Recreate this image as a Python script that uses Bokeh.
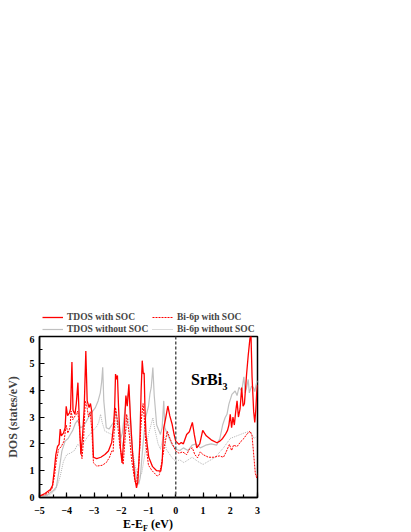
from bokeh.plotting import figure
from bokeh.models import Span, Label, Legend, LegendItem, FixedTicker, Div, Range1d
from bokeh.layouts import column
from bokeh.embed import file_html
from bokeh.resources import INLINE

# ---- data ----
tdos_soc_x = [-5.0, -4.8, -4.6, -4.52, -4.45, -4.4, -4.34, -4.28, -4.24, -4.2, -4.12, -4.06, -4.02, -3.97, -3.9,
              -3.86, -3.81, -3.77, -3.7, -3.65, -3.59, -3.54, -3.48, -3.42, -3.36, -3.3, -3.25, -3.18, -3.13, -3.08,
              -3.02, -2.9, -2.75, -2.6, -2.47, -2.35, -2.28, -2.24, -2.21, -2.17, -2.14, -2.1, -2.03, -1.97, -1.9,
              -1.83, -1.78, -1.72, -1.66, -1.58, -1.5, -1.44, -1.39, -1.32, -1.27, -1.23, -1.19, -1.16, -1.13, -1.09,
              -0.99, -0.85, -0.7, -0.55, -0.5, -0.44, -0.38, -0.29, -0.22, -0.13, -0.05, 0.0, 0.12, 0.2, 0.28,
              0.4, 0.5, 0.61, 0.68, 0.77, 0.88, 0.99, 1.12, 1.3, 1.51, 1.62, 1.72, 1.82, 1.9, 1.95,
              2.0, 2.05, 2.1, 2.15, 2.2, 2.25, 2.3, 2.36, 2.42, 2.47, 2.52, 2.6, 2.66, 2.72, 2.76,
              2.8, 2.86, 2.9, 2.94, 2.97, 3.0]
tdos_soc_y = [0.05, 0.15, 0.3, 0.45, 1.1, 1.6, 1.9, 1.98, 2.55, 2.3, 2.4, 2.6, 3.4, 3.05, 3.15,
              3.3, 5.05, 3.25, 3.1, 3.5, 4.28, 2.9, 1.6, 2.3, 3.3, 5.46, 3.6, 3.35, 3.5, 3.2,
              1.5, 1.45, 1.5, 1.6, 1.73, 2.05, 2.7, 3.4, 4.6, 4.4, 4.55, 3.4, 1.85, 1.29, 2.3,
              3.8, 3.4, 4.22, 2.9, 1.6, 0.7, 0.36, 0.6, 2.0, 4.0, 5.1, 4.6, 4.65, 3.3, 2.3,
              1.5, 1.15, 1.0, 0.98, 1.3, 2.6, 2.9, 3.41, 3.05, 2.72, 2.3, 2.1, 1.98, 2.05, 2.0,
              2.35, 2.45, 2.8, 2.35, 1.85, 2.0, 2.5, 2.3, 2.15, 2.04, 2.1, 2.2, 2.35, 2.5, 2.7,
              3.1, 2.6, 3.0, 2.7, 3.2, 3.6, 3.0, 3.3, 4.1, 3.4, 3.5, 4.6, 5.3, 5.9, 6.1,
              4.5, 3.2, 2.8, 3.3, 3.9, 4.2]

tdos_nosoc_x = [-5.0, -4.7, -4.5, -4.38, -4.3, -4.24, -4.18, -4.06, -3.95, -3.87, -3.78, -3.69, -3.6, -3.5, -3.4,
                -3.3, -3.14, -2.95, -2.85, -2.77, -2.72, -2.68, -2.64, -2.55, -2.45, -2.35, -2.28, -2.21, -2.15,
                -2.08, -2.02, -1.96, -1.86, -1.76, -1.72, -1.66, -1.6, -1.5, -1.4, -1.36, -1.3, -1.2, -1.1, -1.0,
                -0.95, -0.9, -0.84, -0.79, -0.7, -0.56, -0.5, -0.44, -0.4, -0.3, -0.15, 0.0, 0.15, 0.28, 0.45,
                0.6, 0.75, 0.9, 1.1, 1.3, 1.5, 1.62, 1.72, 1.81, 1.88, 1.95, 2.06, 2.18, 2.25, 2.32, 2.42,
                2.5, 2.55, 2.6, 2.66, 2.7, 2.78, 2.85, 2.9, 2.96, 3.0]
tdos_nosoc_y = [0.02, 0.1, 0.25, 0.4, 0.9, 1.3, 1.73, 2.1, 2.2, 2.35, 2.5, 2.75, 2.88, 2.6, 2.65,
                2.8, 3.1, 3.35, 3.6, 3.9, 4.3, 4.85, 3.6, 2.6, 2.55, 2.7, 2.8, 3.23, 2.9,
                2.75, 2.2, 2.4, 3.3, 3.8, 3.97, 3.0, 1.8, 1.0, 0.6, 0.49, 0.75, 2.0, 3.0, 3.4,
                3.84, 4.1, 4.84, 3.8, 2.7, 2.35, 2.6, 3.6, 2.6, 2.35, 2.0, 1.8, 1.75, 1.85, 1.75,
                1.95, 2.0, 1.85, 1.95, 2.0, 1.95, 2.2, 2.7, 2.97, 3.1, 3.48, 3.84, 3.97, 3.8, 4.1, 3.97,
                4.5, 3.9, 4.1, 4.4, 3.9, 4.15, 4.1, 3.95, 4.25, 4.35]

bi6p_soc_x = [-5.0, -4.7, -4.55, -4.45, -4.38, -4.3, -4.2, -4.1, -4.02, -3.96, -3.88, -3.84, -3.78, -3.72, -3.65,
              -3.6, -3.55, -3.48, -3.44, -3.38, -3.32, -3.27, -3.2, -3.14, -3.08, -3.02, -2.9, -2.7, -2.55, -2.43,
              -2.35, -2.3, -2.27, -2.21, -2.17, -2.12, -2.05, -1.93, -1.85, -1.8, -1.75, -1.7, -1.62, -1.5, -1.44,
              -1.35, -1.27, -1.2, -1.15, -1.1, -1.0, -0.87, -0.68, -0.6, -0.5, -0.4, -0.31, -0.25, -0.13, 0.0,
              0.12, 0.25, 0.4, 0.5, 0.61, 0.7, 0.8, 0.9, 1.0, 1.2, 1.4, 1.6, 1.75, 1.85, 1.97,
              2.05, 2.12, 2.25, 2.4, 2.5, 2.6, 2.73, 2.8, 2.86, 2.92, 2.97, 3.0]
bi6p_soc_y = [0.05, 0.15, 0.3, 0.8, 1.4, 1.79, 1.9, 2.1, 2.7, 2.4, 2.6, 3.22, 2.9, 3.0, 3.1,
              3.22, 2.8, 1.73, 1.45, 2.2, 3.6, 3.45, 3.0, 3.2, 2.5, 1.29, 1.17, 1.2, 1.3, 1.5,
              1.73, 1.7, 2.3, 3.35, 3.1, 2.6, 1.9, 1.23, 2.3, 3.1, 2.7, 2.3, 1.4, 0.61, 0.5,
              1.3, 2.8, 3.5, 2.9, 2.0, 1.2, 1.0, 0.8, 0.85, 1.4, 2.0, 2.47, 2.3, 2.0, 1.73,
              1.65, 1.7, 1.6, 1.8, 1.85, 1.6, 1.48, 1.7, 1.6, 1.5, 1.5, 1.55, 1.5, 1.7, 1.98,
              1.75, 1.95, 1.9, 2.1, 2.2, 2.35, 2.47, 2.3, 1.6, 0.9, 0.73, 0.9]

bi6p_nosoc_x = [-5.0, -4.6, -4.4, -4.25, -4.12, -4.0, -3.87, -3.72, -3.6, -3.5, -3.4, -3.26, -3.06, -2.9, -2.83,
                -2.76, -2.7, -2.6, -2.45, -2.35, -2.25, -2.15, -2.05, -1.95, -1.85, -1.72, -1.65, -1.5, -1.36, -1.25,
                -1.12, -1.0, -0.84, -0.78, -0.65, -0.56, -0.44, -0.35, -0.15, 0.0, 0.15, 0.3, 0.45, 0.6, 0.8,
                1.0, 1.2, 1.45, 1.75, 2.0, 2.25, 2.5, 2.73, 2.88, 3.0]
bi6p_nosoc_y = [0.02, 0.1, 0.3, 0.75, 1.35, 1.6, 1.65, 1.75, 1.98, 1.9, 2.0, 2.23, 2.47, 2.65, 2.79,
                3.1, 2.8, 2.47, 2.4, 2.35, 2.5, 2.85, 2.4, 1.9, 2.4, 2.97, 2.2, 1.2, 0.73, 0.9,
                1.7, 2.35, 2.97, 2.6, 2.0, 1.8, 2.35, 1.8, 1.5, 1.35, 1.4, 1.3, 1.4, 1.5, 1.35,
                1.23, 1.35, 1.5, 1.85, 2.2, 2.3, 2.4, 2.47, 2.2, 2.3]

x_ticks = [-5, -4, -3, -2, -1, 0, 1, 2, 3]
y_ticks = [0, 1, 2, 3, 4, 5, 6]
labels = ["TDOS with SOC", "TDOS without SOC", "Bi-6p with SOC", "Bi-6p without SOC"]

FONT = "Liberation Serif"

SERIES = [(tdos_soc_x, tdos_soc_y), (tdos_nosoc_x, tdos_nosoc_y),
          (bi6p_soc_x, bi6p_soc_y), (bi6p_nosoc_x, bi6p_nosoc_y)]
STYLES = [dict(line_color="#ff0000", line_width=1.3),
          dict(line_color="#c0c0c0", line_width=1.2),
          dict(line_color="#ff0000", line_width=1.0, line_dash="2 1"),
          dict(line_color="#b4b4b4", line_width=1.0, line_dash="1 1")]

# ---------------- legend strip (top) ----------------
# the same series are drawn here but far outside the visible y-range; they only feed the legend
p_top = figure(width=400, height=335, output_backend="svg", toolbar_location=None,
               x_range=Range1d(-5, 3), y_range=Range1d(100, 106), min_border=0,
               x_axis_location=None, y_axis_location=None)
p_top.grid.visible = False
p_top.outline_line_color = None
p_top.background_fill_color = "white"
p_top.border_fill_color = "white"
proxies = [p_top.line(sx, sy, **st) for (sx, sy), st in zip(SERIES, STYLES)]

leg_kw = dict(label_text_font=FONT, label_text_font_style="bold", label_text_font_size="9.5px",
              label_height=12, glyph_height=12, glyph_width=21, label_standoff=4, spacing=0,
              padding=0, margin=0, border_line_alpha=0, background_fill_alpha=0)
leg1 = Legend(items=[LegendItem(label=labels[0], renderers=[proxies[0]]),
                     LegendItem(label=labels[1], renderers=[proxies[1]])],
              location=(3, 0), **leg_kw)
leg2 = Legend(items=[LegendItem(label=labels[2], renderers=[proxies[2]]),
                     LegendItem(label=labels[3], renderers=[proxies[3]])],
              location=(113, 0), **leg_kw)
p_top.add_layout(leg1)
p_top.add_layout(leg2)

# ---------------- main plot ----------------
p = figure(width=400, height=182, output_backend="svg", toolbar_location=None,
           x_range=Range1d(-5, 3), y_range=Range1d(0, 6),
           min_border_left=39, min_border_right=143, min_border_top=1, min_border_bottom=20)
p.grid.visible = False
p.outline_line_color = "black"
p.outline_line_width = 1.5
p.background_fill_color = "white"
p.border_fill_color = "white"

r_ts, r_tn, r_bs, r_bn = [p.line(sx, sy, **st) for (sx, sy), st in zip(SERIES, STYLES)]
# draw red curves on top of grey ones
p.renderers = [r_tn, r_bn, r_bs, r_ts]

p.add_layout(Span(location=0, dimension="height", line_color="#555555",
                  line_width=1.5, line_dash="3 2"))

for ax in (p.xaxis[0], p.yaxis[0]):
    ax.axis_line_width = 1.5
    ax.major_tick_in = 5
    ax.major_tick_out = 0
    ax.minor_tick_in = 3
    ax.minor_tick_out = 0
    ax.major_tick_line_width = 1.2
    ax.minor_tick_line_width = 1.2
    ax.major_label_text_font = FONT
    ax.major_label_text_font_style = "bold"
    ax.major_label_text_font_size = "10px"
    ax.major_label_text_color = "black"

p.xaxis.ticker = FixedTicker(ticks=x_ticks, minor_ticks=[v / 2 for v in range(-10, 7)])
p.yaxis.ticker = FixedTicker(ticks=y_ticks, minor_ticks=[v / 2 for v in range(0, 13)])
p.xaxis.major_label_standoff = 9
p.yaxis.major_label_standoff = 5

p.yaxis.axis_label = "DOS (states/eV)"
p.yaxis.axis_label_text_font = FONT
p.yaxis.axis_label_text_font_style = "bold"
p.yaxis.axis_label_text_font_size = "12px"
p.yaxis.axis_label_standoff = 7

# compound label
p.add_layout(Label(x=0.56, y=4.38, text="SrBi", text_font_size="16px", x_units="data", y_units="data",
                   text_font=FONT, text_font_style="bold", text_color="black", text_baseline="alphabetic"))
p.add_layout(Label(x=1.72, y=4.15, text="3", text_font_size="10px", x_units="data", y_units="data",
                   text_font=FONT, text_font_style="bold", text_color="black", text_baseline="alphabetic"))

# ---------------- x-axis title with subscript ----------------
xlabel = Div(text='E-E<sub style="font-size:8px;vertical-align:-3px">F</sub> (eV)', width=200, height=14,
             margin=(0, 0, 0, 123),
             styles={"font-family": FONT, "font-weight": "bold", "font-size": "12px",
                     "line-height": "14px", "color": "black"})

layout = column(p_top, p, xlabel, spacing=0)
open("out.html", "w").write(file_html(layout, INLINE))
